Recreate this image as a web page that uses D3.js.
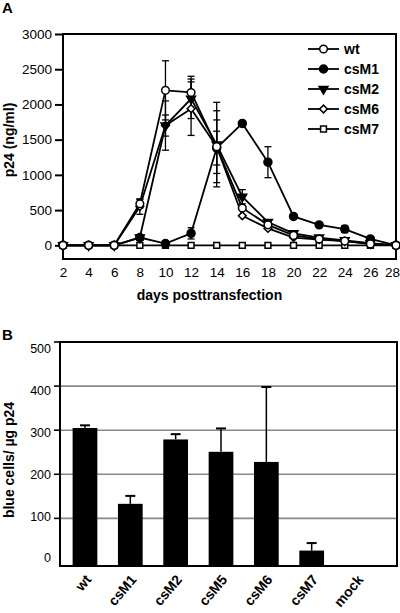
<!DOCTYPE html>
<html><head><meta charset="utf-8">
<script src="https://cdn.jsdelivr.net/npm/d3@7"></script>
<style>
html,body{margin:0;padding:0;background:#fff;}
svg{display:block;font-family:"Liberation Sans",Arial,Helvetica,sans-serif;}
</style></head>
<body><svg id="c" width="400" height="613"></svg>
<script>
// ---------- Panel A data ----------
const days = [2,4,6,8,10,12,14,16,18,20,22,24,26,28];
const wt     = [0,0,0,590,2200,2170,1400,530,290,140,90,60,20,0];
const wtErr  = [0,0,0,60,420,230,380,0,0,0,0,0,0,0];
const csM1   = [0,0,0,110,25,170,1380,1730,1180,410,290,230,90,0];
const csM1Err= [0,0,0,40,0,80,240,0,220,0,20,50,0,0];
const csM2   = [0,0,0,110,1700,2080,1430,690,330,170,110,70,30,0];
const csM2Err= [0,0,0,40,150,280,600,100,0,20,0,0,0,0];
const csM6   = [0,0,0,550,1700,1940,1400,420,240,110,80,60,20,0];
const csM6Err= [0,0,0,110,350,380,510,0,0,0,0,0,0,0];
const csM7   = [0,0,0,0,0,0,0,0,0,0,0,0,0,0];
const csM7Err= [0,0,0,0,0,0,0,0,0,0,0,0,0,0];
const seriesNames = ["wt","csM1","csM2","csM6","csM7"];
const yTicksA = [0,500,1000,1500,2000,2500,3000];

// ---------- Panel B data ----------
const barCategories = ["wt","csM1","csM2","csM5","csM6","csM7","mock"];
const barValues = [305,133,279,251,228,27,0];
const barErrors = [6,18,12,53,170,17,0];
const yTicksB = [0,100,200,300,400,500];

const svg = d3.select("#c");
const F = '"Liberation Sans",Arial,Helvetica,sans-serif';

// ================= PANEL A =================
const A = {left:63, right:396, top:34, zero:245.3, bottom:259};
const x = d3.scaleLinear().domain([2,28]).range([A.left, A.right]);
const y = d3.scaleLinear().domain([0,3000]).range([A.zero, A.top]);

svg.append("text").attr("x",2).attr("y",13).attr("font-size",15).attr("font-weight","bold").text("A");

// frame
svg.append("rect").attr("x",A.left).attr("y",A.top).attr("width",A.right-A.left).attr("height",A.bottom-A.top)
  .attr("fill","none").attr("stroke","#000").attr("stroke-width",2);

// y axis
const gy = svg.append("g").attr("transform",`translate(${A.left},0)`)
  .call(d3.axisLeft(y).tickValues(yTicksA).tickSize(8).tickPadding(3).tickFormat(d3.format("d")));
gy.select(".domain").remove();
gy.selectAll("line").attr("stroke","#000").attr("stroke-width",2);
gy.selectAll("text").attr("font-size",13.5).attr("font-family",F).attr("fill","#000");

// x labels
const gx = svg.append("g").attr("transform",`translate(0,${A.bottom})`)
  .call(d3.axisBottom(x).tickValues(days).tickSize(0).tickPadding(8).tickFormat(d3.format("d")));
gx.select(".domain").remove();
gx.selectAll("text").attr("font-size",13.5).attr("font-family",F).attr("fill","#000")
  .attr("dx",d=>d===28?-4:0);

svg.append("text").attr("x",(A.left+A.right)/2-20).attr("y",300).attr("text-anchor","middle")
  .attr("font-size",14).attr("font-weight","bold").text("days posttransfection");
svg.append("text").attr("transform",`translate(14,140) rotate(-90)`).attr("text-anchor","middle")
  .attr("font-size",14).attr("font-weight","bold").text("p24 (ng/ml)");

const dataMap = {wt:[wt,wtErr], csM1:[csM1,csM1Err], csM2:[csM2,csM2Err], csM6:[csM6,csM6Err], csM7:[csM7,csM7Err]};
const symDef = {
  wt:   {type:d3.symbolCircle, size:46, fill:"#fff", rot:0},
  csM1: {type:d3.symbolCircle, size:50, fill:"#000", rot:0},
  csM2: {type:d3.symbolTriangle, size:34, fill:"#000", rot:180},
  csM6: {type:d3.symbolSquare, size:30, fill:"#fff", rot:45},
  csM7: {type:d3.symbolSquare, size:34, fill:"#fff", rot:0}
};
const line = d3.line().x(d=>x(d[0])).y(d=>y(d[1]));
const drawOrder = ["csM7","csM6","csM2","csM1","wt"];

drawOrder.forEach(n=>{
  const pts = days.map((d,i)=>[d, dataMap[n][0][i]]);
  svg.append("path").attr("d",line(pts)).attr("fill","none").attr("stroke","#000").attr("stroke-width",1.8);
});
// error bars
drawOrder.forEach(n=>{
  const [v,e] = dataMap[n];
  days.forEach((d,i)=>{
    if(!e[i]) return;
    const cx = x(d), y1 = y(v[i]+e[i]), y2 = y(Math.max(0,v[i]-e[i]));
    svg.append("line").attr("x1",cx).attr("x2",cx).attr("y1",y1).attr("y2",y2).attr("stroke","#000").attr("stroke-width",1.3);
    [y1,y2].forEach(yy=>svg.append("line").attr("x1",cx-3.5).attr("x2",cx+3.5).attr("y1",yy).attr("y2",yy).attr("stroke","#000").attr("stroke-width",1.3));
  });
});
// markers
function marker(g, n, cx, cy){
  const s = symDef[n];
  g.append("path").attr("d",d3.symbol().type(s.type).size(s.size)())
    .attr("transform",`translate(${cx},${cy}) rotate(${s.rot})`)
    .attr("fill",s.fill).attr("stroke","#000").attr("stroke-width",1.5);
}
drawOrder.forEach(n=>{
  const v = dataMap[n][0];
  days.forEach((d,i)=>marker(svg,n,x(d),y(v[i])));
});

// legend
seriesNames.forEach((n,i)=>{
  const ly = 49 + i*20;
  svg.append("line").attr("x1",308).attr("x2",339).attr("y1",ly).attr("y2",ly).attr("stroke","#000").attr("stroke-width",1.8);
  marker(svg,n,323.5,ly);
  svg.append("text").attr("x",344).attr("y",ly).attr("dy","0.35em").attr("font-size",14).attr("font-weight","bold").text(n);
});

// ================= PANEL B =================
const B = {left:60, right:397, top:342, bottom:566};
svg.append("text").attr("x",2).attr("y",340).attr("font-size",15).attr("font-weight","bold").text("B");

const yb = d3.scaleLinear().domain([-8,500]).range([B.bottom, B.top]);
const yLab = d3.scaleLinear().domain([0,500]).range([558,349]);
const xb = d3.scaleBand().domain(barCategories).range([62.3,379.7]).paddingInner(0.455).paddingOuter(0.2275);

// gridlines
svg.append("g").selectAll("line").data(yTicksB.filter(t=>t>0 && t<500)).join("line")
  .attr("x1",B.left).attr("x2",B.right).attr("y1",d=>yb(d)).attr("y2",d=>yb(d))
  .attr("stroke","#888").attr("stroke-width",1.6);
// tick marks
svg.append("g").selectAll("line").data(yTicksB.filter(t=>t>0)).join("line")
  .attr("x1",B.left-6).attr("x2",B.left).attr("y1",d=>yb(d)).attr("y2",d=>yb(d))
  .attr("stroke","#000").attr("stroke-width",1.6);
// tick labels
svg.append("g").selectAll("text").data(yTicksB).join("text")
  .attr("x",51).attr("y",d=>yLab(d)).attr("dy","0.35em").attr("text-anchor","end")
  .attr("font-size",12.5).text(d=>d);

// bars (zero-valued categories draw no bar)
const barData = barCategories.map((c,i)=>({c, v:barValues[i], e:barErrors[i]})).filter(d=>d.v>0);
svg.append("g").selectAll("rect").data(barData).join("rect")
  .attr("x",d=>xb(d.c)).attr("width",xb.bandwidth())
  .attr("y",d=>yb(d.v)).attr("height",d=>yb(-8)-yb(d.v))
  .attr("fill","#000");
// error bars (upward)
barData.forEach(d=>{
  if(!d.e) return;
  const cx = xb(d.c)+xb.bandwidth()/2;
  svg.append("line").attr("x1",cx).attr("x2",cx).attr("y1",yb(d.v)).attr("y2",yb(d.v+d.e))
    .attr("stroke","#000").attr("stroke-width",1.5);
  svg.append("line").attr("x1",cx-5).attr("x2",cx+5).attr("y1",yb(d.v+d.e)).attr("y2",yb(d.v+d.e))
    .attr("stroke","#000").attr("stroke-width",2);
});

// frame
svg.append("rect").attr("x",B.left).attr("y",B.top).attr("width",B.right-B.left).attr("height",B.bottom-B.top)
  .attr("fill","none").attr("stroke","#000").attr("stroke-width",2);

// category labels
svg.append("g").selectAll("text").data(barCategories).join("text")
  .attr("transform",d=>`translate(${xb(d)+xb.bandwidth()/2+7},580) rotate(-50)`)
  .attr("text-anchor","end").attr("font-size",14).attr("font-weight","bold").text(d=>d);

svg.append("text").attr("transform",`translate(14,460) rotate(-90)`).attr("text-anchor","middle")
  .attr("font-size",14).attr("font-weight","bold").text("blue cells/ µg p24");
</script></body></html>
